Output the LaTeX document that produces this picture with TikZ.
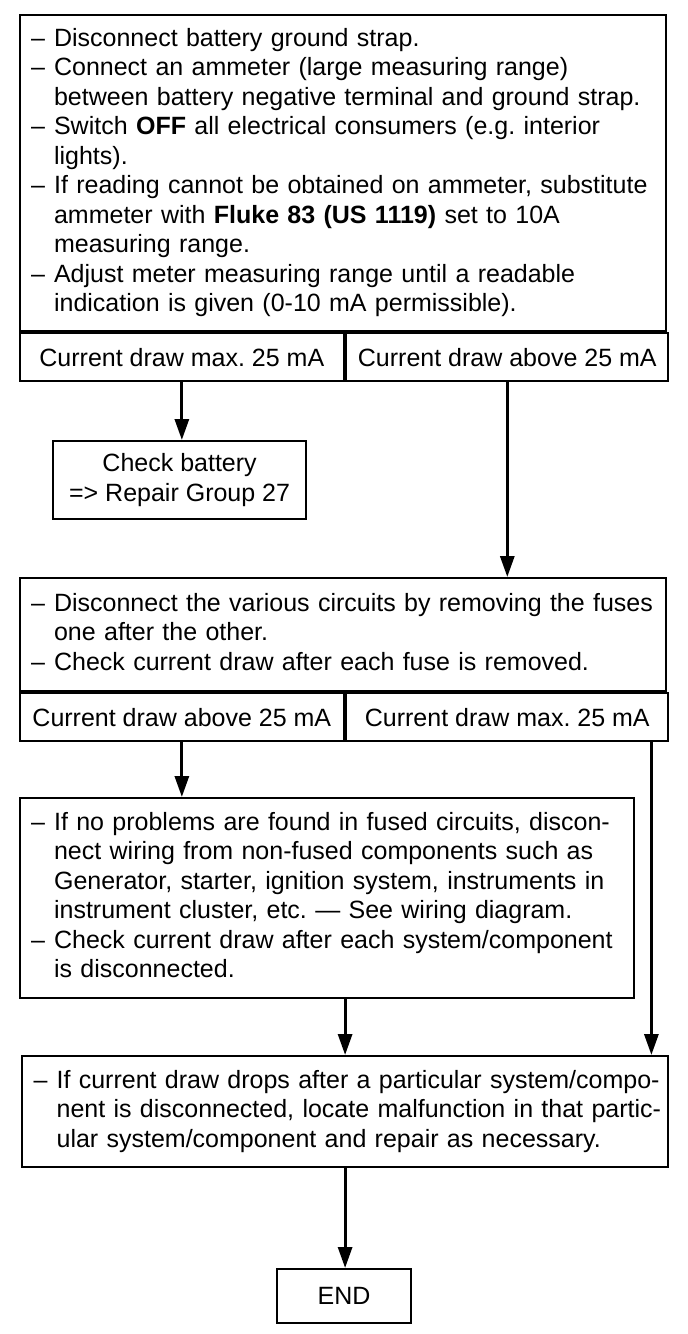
\documentclass[tikz,border=0pt]{standalone}
\usepackage{fontspec}
\setmainfont{Liberation Sans}
\usetikzlibrary{arrows.meta}
\frenchspacing
\newcommand{\dsh}{–}
\newenvironment{steps}{\begin{tabular}{@{}p{23pt}@{}l@{}}}{\end{tabular}}
\begin{document}
\begin{tikzpicture}[x=1pt,y=-1pt,
  box/.style={draw, line width=2.2pt, inner sep=0pt, font=\fontsize{25}{29.5}\selectfont\frenchspacing},
  listbox/.style={box, anchor=north west, inner xsep=11.5pt, align=left},
  cell/.style={box, anchor=north west, minimum height=48pt},
  arr/.style={line width=3pt, -{Triangle[length=21pt,width=14pt]}}]
\useasboundingbox (0,0) rectangle (688,1334);
% box 1
\node[listbox, minimum width=646.5pt, text width=623.5pt, minimum height=316pt] (b1) at (18.5,14) {\begin{steps}
\dsh & Disconnect battery ground strap.\\
\dsh & Connect an ammeter (large measuring range)\\
 & between battery negative terminal and ground strap.\\
\dsh & Switch \textbf{OFF} all electrical consumers (e.g. interior\\
 & lights).\\
\dsh & If reading cannot be obtained on ammeter, substitute\\
 & ammeter with \textbf{Fluke 83 (US 1119)} set to 10A\\
 & measuring range.\\
\dsh & Adjust meter measuring range until a readable\\
 & indication is given (0-10 mA permissible).
\end{steps}};
\node[cell, minimum width=324.5pt] (b1l) at (b1.south west) {Current draw max. 25 mA};
\node[cell, minimum width=322pt] (b1r) at (b1l.north east) {Current draw above 25 mA};
% box 2
\node[box, anchor=north west, minimum width=253pt, minimum height=78pt, align=center] (b2) at (52,440) {Check battery\\=> Repair Group 27};
% box 3
\node[listbox, minimum width=646.5pt, text width=623.5pt, minimum height=113pt] (b3) at (18.5,577) {\begin{steps}
\dsh & Disconnect the various circuits by removing the fuses\\
 & one after the other.\\
\dsh & Check current draw after each fuse is removed.
\end{steps}};
\node[cell, minimum width=324.5pt] (b3l) at (b3.south west) {Current draw above 25 mA};
\node[cell, minimum width=322pt] (b3r) at (b3l.north east) {Current draw max. 25 mA};
% box 4
\node[listbox, minimum width=614.5pt, text width=591.5pt, minimum height=200pt] (b4) at (18.5,797) {\begin{steps}
\dsh & If no problems are found in fused circuits, discon-\\
 & nect wiring from non-fused components such as\\
 & Generator, starter, ignition system, instruments in\\
 & instrument cluster, etc. --- See wiring diagram.\\
\dsh & Check current draw after each system/component\\
 & is disconnected.
\end{steps}};
% box 5
\node[listbox, minimum width=646pt, text width=623pt, minimum height=111pt] (b5) at (21,1055) {\begin{steps}
\dsh & If current draw drops after a particular system/compo-\\
 & nent is disconnected, locate malfunction in that partic-\\
 & ular system/component and repair as necessary.
\end{steps}};
% end
\node[box, anchor=north west, minimum width=134pt, minimum height=54pt] (end) at (276,1268) {END};
% arrows
\draw[arr] (b1l.south) -- (b1l.south |- b2.north);
\draw[arr] (b1r.south) -- (b1r.south |- b3.north);
\draw[arr] (b3l.south) -- (b3l.south |- b4.north);
\draw[arr] (b5.north |- b4.south) -- (b5.north);
\draw[arr] ([xshift=-18pt]b3r.south east) -- ([xshift=-18pt]b3r.south east |- b5.north);
\draw[arr] (b5.south) -- (b5.south |- end.north);
\end{tikzpicture}
\end{document}
